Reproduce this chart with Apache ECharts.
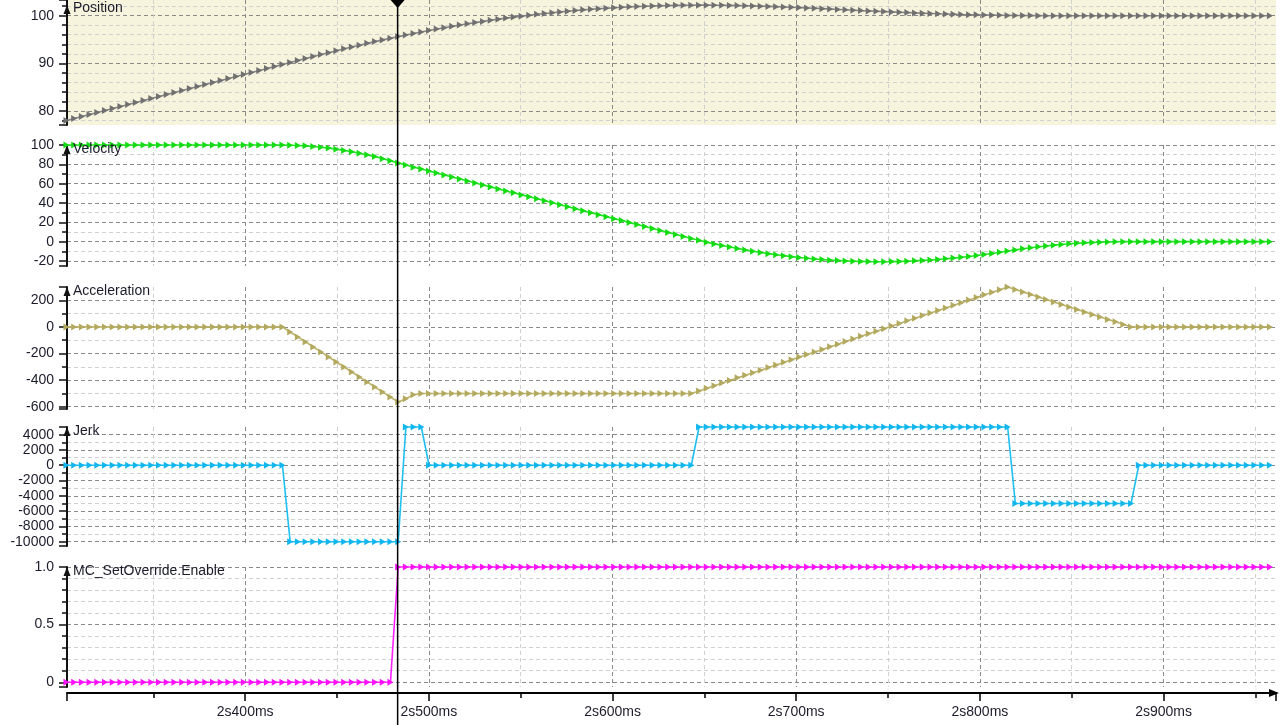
<!DOCTYPE html>
<html>
<head>
<meta charset="utf-8">
<script src="https://cdn.jsdelivr.net/npm/echarts@6/dist/echarts.min.js"></script>
<style>html,body{margin:0;padding:0;background:#fff}#chart{width:1280px;height:725px}</style>
</head>
<body>
<div id="chart"></div>
<script>
// ---- sample clock (ms) ----
const startTimeMs = 2302.7;
const samplePeriodMs = 4.2;

// ---- channel names ----
const channelNames = ['Position', 'Velocity', 'Acceleration', 'Jerk', 'MC_SetOverride.Enable'];

// ---- series values (one per sample) ----
const position = [
  78.00, 78.42, 78.84, 79.26, 79.68, 80.10, 80.52, 80.94, 81.36, 81.78,
  82.20, 82.62, 83.04, 83.46, 83.88, 84.30, 84.72, 85.14, 85.56, 85.98,
  86.40, 86.82, 87.24, 87.66, 88.08, 88.50, 88.92, 89.34, 89.76,
  90.18, 90.60, 91.01, 91.43, 91.84, 92.24, 92.64, 93.04, 93.43, 93.81,
  94.19, 94.56, 94.92, 95.27, 95.61,
  95.95, 96.27, 96.59, 96.89, 97.19, 97.48, 97.76, 98.03, 98.30, 98.55,
  98.80, 99.04, 99.27, 99.49, 99.70, 99.90, 100.10,
  100.29, 100.46, 100.63, 100.79, 100.94, 101.09, 101.22, 101.35, 101.46, 101.57,
  101.67, 101.76, 101.85, 101.92, 101.99, 102.05, 102.09, 102.13, 102.17, 102.19,
  102.20, 102.21, 102.21,
  102.20, 102.18, 102.16, 102.13, 102.09, 102.05, 102.00, 101.95, 101.89, 101.83,
  101.76, 101.69, 101.62, 101.55, 101.47, 101.39, 101.31, 101.23, 101.15, 101.07,
  101.00, 100.93, 100.86, 100.79, 100.72, 100.65, 100.58, 100.52, 100.46, 100.40,
  100.35, 100.30, 100.25, 100.21, 100.17, 100.14, 100.11, 100.08, 100.06, 100.04,
  100.03, 100.02, 100.01,
  100, 100, 100, 100, 100, 100, 100, 100, 100, 100,
  100, 100, 100, 100, 100, 100, 100, 100, 100, 100,
  100, 100, 100, 100, 100, 100, 100, 100, 100, 100
];
const velocity = [
  100, 100, 100, 100, 100, 100, 100, 100, 100, 100,
  100, 100, 100, 100, 100, 100, 100, 100, 100, 100,
  100, 100, 100, 100, 100, 100, 100, 100, 100,
  99.8, 99.5, 99.1, 98.4, 97.7, 96.8, 95.7, 94.4, 93.1, 91.5, 89.8, 88.0, 85.9, 83.8, 81.5,
  79.3, 77.1, 75.1, 73.0, 71.0, 68.9, 66.9, 64.8, 62.8, 60.7,
  58.7, 56.6, 54.6, 52.5, 50.5, 48.4, 46.4, 44.3, 42.3, 40.2,
  38.2, 36.1, 34.1, 32.0, 30.0, 27.9, 25.9, 23.8, 21.8, 19.7,
  17.7, 15.6, 13.6, 11.5, 9.5, 7.4, 5.4, 3.3,
  1.4, -0.5, -2.3, -4.0, -5.6, -7.1, -8.5, -9.9, -11.2, -12.4,
  -13.5, -14.5, -15.5, -16.4, -17.2, -17.9, -18.5, -19.1, -19.5, -19.9,
  -20.2, -20.4, -20.6, -20.7, -20.7, -20.6, -20.4, -20.2, -19.8, -19.4,
  -18.9, -18.4, -17.7, -17.0, -16.2, -15.3, -14.3, -13.3, -12.2, -11.0,
  -9.7, -8.5, -7.4, -6.3, -5.3, -4.4, -3.6, -2.9, -2.2, -1.7,
  -1.2, -0.8, -0.5, -0.3, -0.1, 0, 0,
  0, 0, 0, 0, 0, 0, 0, 0, 0, 0, 0, 0, 0, 0, 0, 0, 0, 0
];
const acceleration = [
  0, 0, 0, 0, 0, 0, 0, 0, 0, 0, 0, 0, 0, 0, 0, 0, 0, 0, 0, 0,
  0, 0, 0, 0, 0, 0, 0, 0, 0,
  -38, -75, -113, -151, -188, -226, -264, -301, -339, -377, -414, -452, -490, -527, -565,
  -540, -510, -500,
  -500, -500, -500, -500, -500, -500, -500, -500, -500, -500,
  -500, -500, -500, -500, -500, -500, -500, -500, -500, -500,
  -500, -500, -500, -500, -500, -500, -500, -500, -500, -500,
  -500, -500, -500, -500, -500,
  -481, -461, -442, -422, -403, -383, -364, -344, -325, -305,
  -286, -266, -247, -227, -208, -188, -169, -149, -130, -110,
  -91, -71, -52, -32, -13, 7, 26, 46, 65, 85,
  104, 124, 143, 163, 182, 202, 221, 241, 260, 280, 300,
  281, 263, 244, 225, 206, 188, 169, 150, 131, 113, 94, 75, 56, 38, 19, 0,
  0, 0, 0, 0, 0, 0, 0, 0, 0, 0, 0, 0, 0, 0, 0, 0, 0, 0
];
const jerk = [
  0, 0, 0, 0, 0, 0, 0, 0, 0, 0, 0, 0, 0, 0, 0, 0, 0, 0, 0, 0,
  0, 0, 0, 0, 0, 0, 0, 0, 0,
  -10000, -10000, -10000, -10000, -10000, -10000, -10000, -10000,
  -10000, -10000, -10000, -10000, -10000, -10000, -10000,
  5000, 5000, 5000,
  0, 0, 0, 0, 0, 0, 0, 0, 0, 0, 0, 0, 0, 0, 0, 0, 0, 0, 0, 0,
  0, 0, 0, 0, 0, 0, 0, 0, 0, 0, 0, 0, 0, 0, 0,
  5000, 5000, 5000, 5000, 5000, 5000, 5000, 5000, 5000, 5000,
  5000, 5000, 5000, 5000, 5000, 5000, 5000, 5000, 5000, 5000,
  5000, 5000, 5000, 5000, 5000, 5000, 5000, 5000, 5000, 5000,
  5000, 5000, 5000, 5000, 5000, 5000, 5000, 5000, 5000, 5000, 5000,
  -5000, -5000, -5000, -5000, -5000, -5000, -5000, -5000,
  -5000, -5000, -5000, -5000, -5000, -5000, -5000, -5000,
  0, 0, 0, 0, 0, 0, 0, 0, 0, 0, 0, 0, 0, 0, 0, 0, 0, 0
];
const enable = [
  0, 0, 0, 0, 0, 0, 0, 0, 0, 0, 0, 0, 0, 0, 0, 0, 0, 0, 0, 0,
  0, 0, 0, 0, 0, 0, 0, 0, 0, 0, 0, 0, 0, 0, 0, 0, 0, 0, 0, 0,
  0, 0, 0,
  1, 1, 1, 1, 1, 1, 1, 1, 1, 1, 1, 1, 1, 1, 1, 1, 1, 1, 1, 1,
  1, 1, 1, 1, 1, 1, 1, 1, 1, 1, 1, 1, 1, 1, 1, 1, 1, 1, 1, 1,
  1, 1, 1, 1, 1, 1, 1, 1, 1, 1, 1, 1, 1, 1, 1, 1, 1, 1, 1, 1,
  1, 1, 1, 1, 1, 1, 1, 1, 1, 1, 1, 1, 1, 1, 1, 1, 1, 1, 1, 1,
  1, 1, 1, 1, 1, 1, 1, 1, 1, 1, 1, 1, 1, 1, 1, 1, 1, 1, 1, 1,
  1, 1, 1, 1, 1, 1, 1, 1, 1, 1, 1, 1, 1, 1
];

// ---- axis ranges and tick steps ----
const timeRange = [2303.0, 2961.2];
const timeLabelStep = 100;
const yRanges = [[77.06, 103.29], [-25.17, 100], [-617, 300], [-10562, 5000], [-0.041, 1.0]];
const yLabelSteps = [10, 20, 200, 2000, 0.5];
const yMinorSplits = [5, 2, 2, 2, 5];
const cursorTimeMs = 2483.0;

// ---- styling ----
const colors = ['#868686', '#22e622', '#bdb36b', '#1ec0f2', '#ff22ff'];
const markerColors = ['#707070', '#14dc14', '#b3a95e', '#12b6ee', '#ff10ff'];
const panels = [
  {top: 0, height: 125, bg: '#f6f4dc', arrowTip: 5},
  {top: 145, height: 121, bg: 'transparent', arrowTip: 0},
  {top: 287, height: 122, bg: 'transparent', arrowTip: 0},
  {top: 427, height: 119, bg: 'transparent', arrowTip: 0},
  {top: 567, height: 120, bg: 'transparent', arrowTip: 0}
];
const GRID_LEFT = 67, GRID_RIGHT = 4;
const labelFont = 'Liberation Sans, Arial, sans-serif';
const majorGrid = {color: '#8a8a8a', type: [4, 3], width: 1};
const minorGrid = {color: '#d0d0d0', type: [4, 3], width: 1};

function isMultiple(v, step) {
  const r = v / step;
  return Math.abs(r - Math.round(r)) < 1e-6;
}
function timeLabel(v) {
  if (!isMultiple(v, timeLabelStep)) return '';
  const ms = Math.round(v);
  return Math.floor(ms / 1000) + 's' + (ms % 1000) + 'ms';
}
function yLabel(k) {
  return function (v) {
    if (!isMultiple(v, yLabelSteps[k])) return '';
    if (Math.abs(v) < 1e-9) return '0';
    if (yLabelSteps[k] < 1) return v.toFixed(1);
    return String(Math.round(v));
  };
}

const seriesValues = [position, velocity, acceleration, jerk, enable];

const chart = echarts.init(document.getElementById('chart'), null, {renderer: 'canvas'});

const option = {
  animation: false,
  backgroundColor: '#ffffff',
  grid: panels.map(p => ({
    left: GRID_LEFT, right: GRID_RIGHT, top: p.top, height: p.height,
    show: true, backgroundColor: p.bg, borderWidth: 0, containLabel: false
  })),
  xAxis: panels.map((p, k) => {
    const last = k === panels.length - 1;
    return {
      type: 'value', gridIndex: k, min: timeRange[0], max: timeRange[1],
      minInterval: timeLabelStep, maxInterval: timeLabelStep, splitNumber: 6,
      offset: last ? 6 : 0,
      axisLine: {show: last, onZero: false, symbol: ['none', 'triangle'], symbolSize: [8, 10], symbolOffset: [0, -2],
        lineStyle: {color: '#000', width: 2}},
      axisTick: {show: last, length: 8, lineStyle: {color: '#000', width: 1.5}},
      minorTick: {show: last, splitNumber: 2, length: 5, lineStyle: {color: '#000', width: 1.5}},
      axisLabel: {show: last, formatter: timeLabel, margin: 12, fontSize: 14, fontFamily: labelFont, color: '#1c1c2c'},
      splitLine: {show: true, showMinLine: false, showMaxLine: false, lineStyle: majorGrid},
      minorSplitLine: {show: true, lineStyle: minorGrid}
    };
  }),
  yAxis: panels.map((p, k) => ({
    type: 'value', gridIndex: k, min: yRanges[k][0], max: yRanges[k][1],
    minInterval: yLabelSteps[k], maxInterval: yLabelSteps[k], splitNumber: 5,
    axisLine: {show: true, onZero: false, symbol: ['none', 'triangle'], symbolSize: [7, 9],
      symbolOffset: [0, -(p.arrowTip + 4.5)], lineStyle: {color: '#111', width: 2}},
    axisTick: {show: true, length: 8, lineStyle: {color: '#111', width: 1.5}},
    minorTick: {show: true, splitNumber: yMinorSplits[k], length: 5, lineStyle: {color: '#111', width: 1.5}},
    axisLabel: {formatter: yLabel(k), margin: 13, fontSize: 14, fontFamily: labelFont, color: '#1c1c2c',
      padding: [5, 0, 0, 0]},
    splitLine: {show: true, showMinLine: false, showMaxLine: (k === 1 || k === 4), lineStyle: majorGrid},
    minorSplitLine: {show: true, lineStyle: minorGrid}
  })),
  series: seriesValues.map((vals, k) => ({
    name: channelNames[k],
    type: 'line', xAxisIndex: k, yAxisIndex: k,
    data: vals.map((v, i) => [startTimeMs + i * samplePeriodMs, v]),
    symbol: 'triangle', symbolRotate: -90, symbolSize: [7, 6], showSymbol: true,
    clip: false,
    lineStyle: {color: colors[k], width: 1.6},
    itemStyle: {color: markerColors[k]},
    z: 3
  }))
};
chart.setOption(option);

// channel captions and the time cursor, positioned through the axes
const graphics = [];
panels.forEach((p, k) => {
  const topPx = chart.convertToPixel({yAxisIndex: k}, yRanges[k][1]);
  graphics.push({
    type: 'text', z: 10,
    style: {text: channelNames[k], x: GRID_LEFT + 6, y: (k === 0 ? 8 : topPx + 4.5),
      fill: '#1c1c2c', font: '14px ' + labelFont, verticalAlign: 'middle', align: 'left'}
  });
});
const cx = chart.convertToPixel({xAxisIndex: 4}, cursorTimeMs);
graphics.push({type: 'line', z: 20, shape: {x1: cx, y1: 0, x2: cx, y2: 725}, style: {stroke: '#000', lineWidth: 1.5}});
graphics.push({type: 'polygon', z: 21, shape: {points: [[cx - 7, 0], [cx, -8], [cx + 7, 0], [cx, 8]]}, style: {fill: '#000'}});
chart.setOption({graphic: graphics});
</script>
</body>
</html>
